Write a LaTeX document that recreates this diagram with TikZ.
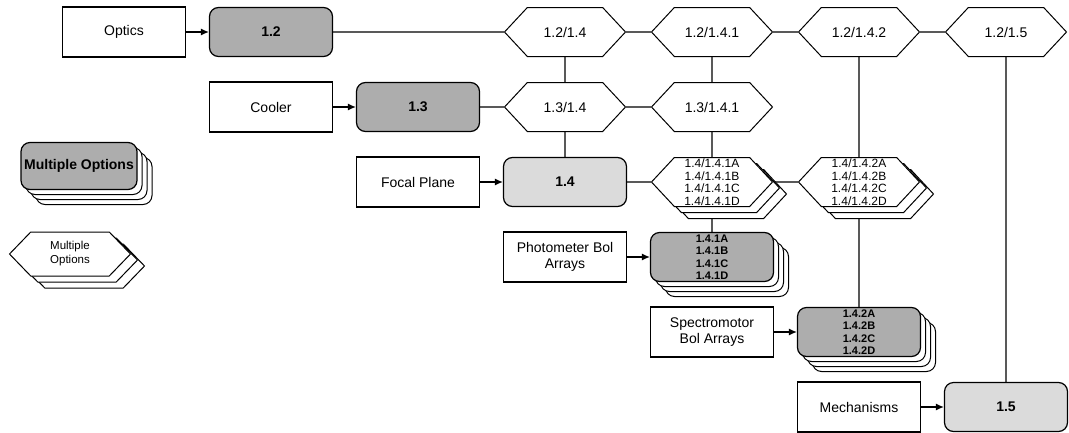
\documentclass[tikz,border=0pt]{standalone}
\usepackage{fontspec}
\setmainfont{Liberation Sans}
\usepackage{tikz}
\usetikzlibrary{arrows.meta,positioning,shapes.symbols,shadows,backgrounds}

\begin{document}
\begin{tikzpicture}[x=1pt, y=-1pt, node distance=147pt,
    >={Latex[length=8pt,width=7pt]},
    block/.style={rectangle, draw, line width=1.2pt, minimum width=123pt, minimum height=50pt, align=center, font=\fontsize{14}{16.5}\selectfont},
    unit/.style={rectangle, rounded corners=9pt, draw, line width=1.2pt, minimum width=123pt, minimum height=49pt, inner ysep=0pt, align=center, font=\bfseries\fontsize{14}{15}\selectfont},
    dark/.style={fill=black!32},
    light/.style={fill=black!14},
    choice/.style={signal, signal to=west and east, signal pointer angle=94, draw, fill=white, line width=1pt, minimum width=121pt, minimum height=49pt, inner xsep=2pt, inner ysep=0pt, align=center, font=\fontsize{14}{15}\selectfont},
    copyat/.style={general shadow={shadow xshift=#1, shadow yshift=-#1, fill=white, draw=black, line width=1pt}},
    boxstack/.style={copyat=15pt, copyat=10pt, copyat=5pt},
    hexstack/.style={general shadow={shadow xshift=14pt, shadow yshift=-12pt, fill=white, draw=black, line width=1pt},
                     general shadow={shadow xshift=7pt, shadow yshift=-6pt, fill=white, draw=black, line width=1pt}},
    hextext/.style={font=\fontsize{12}{12.5}\selectfont},
    listtext/.style={font=\bfseries\fontsize{11}{12.5}\selectfont},
    link/.style={draw=black, line width=1.2pt}
  ]
  \useasboundingbox (0,0) rectangle (1069,432);

  \node[block] (optics) at (124,32) {Optics};
  \node[unit, dark, right of=optics] (p12) {1.2};
  \node[choice, right of=p12, node distance=294pt] (c1) {1.2/1.4};
  \node[choice, right of=c1] (c2) {1.2/1.4.1};
  \node[choice, right of=c2] (c3) {1.2/1.4.2};
  \node[choice, right of=c3] (c4) {1.2/1.5};

  \node[block, below of=p12, node distance=75pt] (cooler) {Cooler};
  \node[unit, dark, right of=cooler] (p13) {1.3};
  \node[choice, right of=p13] (c5) {1.3/1.4};
  \node[choice, right of=c5] (c6) {1.3/1.4.1};

  \node[block, below of=p13, node distance=75pt] (focal) {Focal Plane};
  \node[unit, light, right of=focal] (p14) {1.4};
  \node[choice, hexstack, hextext, right of=p14] (s1) {1.4/1.4.1A\\1.4/1.4.1B\\1.4/1.4.1C\\1.4/1.4.1D};
  \node[choice, hexstack, hextext, right of=s1] (s2) {1.4/1.4.2A\\1.4/1.4.2B\\1.4/1.4.2C\\1.4/1.4.2D};

  \node[block, below of=p14, node distance=75pt] (photo) {Photometer Bol\\Arrays};
  \node[unit, dark, boxstack, listtext, right of=photo] (a1) {1.4.1A\\1.4.1B\\1.4.1C\\1.4.1D};
  \node[block, below of=a1, node distance=75pt] (spec) {Spectromotor\\Bol Arrays};
  \node[unit, dark, boxstack, listtext, right of=spec] (a2) {1.4.2A\\1.4.2B\\1.4.2C\\1.4.2D};
  \node[block, below of=a2, node distance=75pt] (mech) {Mechanisms};
  \node[unit, light, right of=mech] (p15) {1.5};

  \node[unit, dark, boxstack, minimum width=116pt, minimum height=47pt, inner xsep=2pt, font=\bfseries\fontsize{14}{15}\selectfont] (legunit) at (79,166) {Multiple Options};
  \node[choice, hexstack, minimum height=44pt, signal pointer angle=92, font=\fontsize{11.5}{14}\selectfont] (legchoice) at (70,254) {Multiple\\Options};

  \draw[link] (p12) -- (c1);
  \draw[link] (c1) -- (c2);
  \draw[link] (c2) -- (c3);
  \draw[link] (c3) -- (c4);
  \draw[link] (p13) -- (c5);
  \draw[link] (c5) -- (c6);
  \draw[link] (c1) -- (c5);
  \draw[link] (c2) -- (c6);
  \draw[link] (c5) -- (p14);
  \draw[link] (c6) -- (s1);
  \draw[link] (p14) -- (s1);
  \draw[link] (c3) -- (s2);
  \draw[link] (c4) -- (p15);
  \begin{scope}[on background layer]
    \draw[link] (s1) -- (s2);
    \draw[link] (s1) -- (a1);
    \draw[link] (s2) -- (a2);
  \end{scope}

  \draw[->, link] (optics) -- (p12);
  \draw[->, link] (cooler) -- (p13);
  \draw[->, link] (focal) -- (p14);
  \draw[->, link] (photo) -- (a1);
  \draw[->, link] (spec) -- (a2);
  \draw[->, link] (mech) -- (p15);
\end{tikzpicture}
\end{document}
